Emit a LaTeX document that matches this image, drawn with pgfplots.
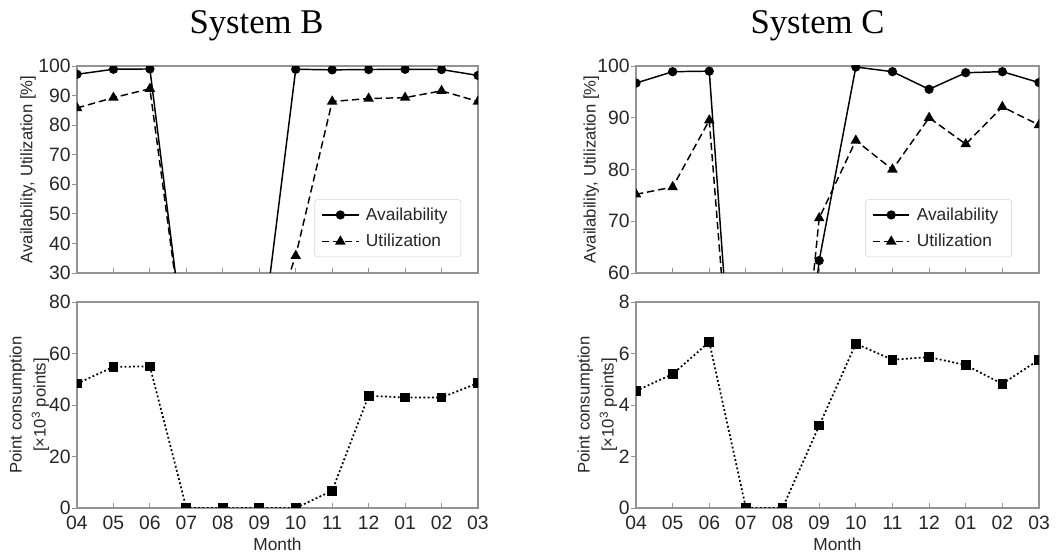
\documentclass[border=0pt]{standalone}
\usepackage{fontspec}
\setmainfont{Liberation Sans}
\newfontfamily\titlefont{Liberation Serif}
\usepackage{pgfplots}
\pgfplotsset{compat=1.18}

% 1 px of the reference = 0.75pt
\pgfplotsset{
  sysax/.style={
    scale only axis,
    xmin=0, xmax=11, xtick={0,...,11},
    axis line style={draw=gray!85, line width=0.8pt},
    every tick/.style={draw=gray!85, line width=0.7pt},
    major tick length=3.5pt,
    xtick align=inside, ytick align=outside,
    xtick pos=bottom, ytick pos=left,
    clip marker paths=true,
    tick label style={font=\fontsize{14.5}{16}\selectfont, text=black!85},
    yticklabel style={inner xsep=1pt, inner ysep=0pt},
    xticklabel style={inner ysep=0pt, yshift=-6pt},
    label style={font=\fontsize{13}{15}\selectfont, text=black!85},
    xlabel style={at={(axis description cs:0.5,-0.175)}, anchor=center},
    /pgf/number format/assume math mode=true,
    legend cell align=left,
    legend image code/.code={
      \draw[mark repeat=2, mark phase=2, #1] plot coordinates {(0cm,0cm) (0.48cm,0cm) (0.96cm,0cm)};},
    legend style={anchor=south east, draw=gray!35, rounded corners=2pt,
      font=\fontsize{13}{15}\selectfont, text=black!85,
      row sep=5pt, inner xsep=5pt, inner ysep=4pt,
      nodes={inner xsep=5pt}},
  },
  avlabel/.style={ylabel={Availability, Utilization [\%]},
    ylabel style={font=\fontsize{12.5}{14}\selectfont, at={(axis description cs:#1,0.5)}, anchor=center}},
  ptlabel/.style={ylabel={Point consumption\\\relax[×10\textsuperscript{3} points]},
    ylabel style={align=center, font=\fontsize{12.5}{18}\selectfont, at={(axis description cs:#1,0.5)}, anchor=center}},
  avail/.style={black, line width=1.1pt, mark=*, mark size=2.9pt},
  util/.style={black, line width=1.1pt, dash pattern=on 5.5pt off 3pt,
    mark=triangle*, mark size=3.5pt, mark options={solid}},
  pts/.style={black, line width=1.3pt, dash pattern=on 1.4pt off 1.8pt,
    mark=square*, mark size=3pt, mark options={solid}},
}

\begin{document}
\begin{tikzpicture}
\path (0,0) rectangle (793.5pt,417pt);

\node[anchor=base, font=\titlefont\fontsize{26}{30}\selectfont] at (192.4pt,392.2pt) {System B};
\node[anchor=base, font=\titlefont\fontsize{26}{30}\selectfont] at (613.1pt,392.2pt) {System C};

% System B, availability and utilization
\begin{axis}[sysax, at={(57.75pt,212.25pt)}, anchor=south west,
  width=300.75pt, height=155.25pt,
  ymin=30, ymax=100, ytick={30,40,...,100},
  xticklabels={}, avlabel=-0.122,
  legend style={at={(0.958,0.077)}}]
\addplot[avail] coordinates {(0,97.2) (1,98.9) (2,99.0) (3,0) (4,0) (5,0) (6,98.9) (7,98.7) (8,98.8) (9,98.9) (10,98.8) (11,96.8)};
\addplot[util] coordinates {(0,85.8) (1,89.3) (2,92.3) (3,0) (4,0) (5,0) (6,35.8) (7,88.0) (8,89.0) (9,89.3) (10,91.6) (11,88.0)};
\legend{Availability, Utilization}
\end{axis}

% System B, point consumption
\begin{axis}[sysax, at={(57.75pt,36pt)}, anchor=south west,
  width=300.75pt, height=154.5pt,
  ymin=0, ymax=80, ytick={0,20,...,80},
  xticklabels={04,05,06,07,08,09,10,11,12,01,02,03},
  xlabel={Month}, ptlabel=-0.119]
\addplot[pts] coordinates {(0,48.3) (1,54.8) (2,55.0) (3,0) (4,0) (5,0) (6,0) (7,6.7) (8,43.6) (9,42.9) (10,42.9) (11,48.5)};
\end{axis}

% System C, availability and utilization
\begin{axis}[sysax, at={(477pt,212.25pt)}, anchor=south west,
  width=302.25pt, height=155.25pt,
  ymin=60, ymax=100, ytick={60,70,...,100},
  xticklabels={}, avlabel=-0.111,
  legend style={at={(0.933,0.077)}}]
\addplot[avail] coordinates {(0,96.7) (1,98.9) (2,99.0) (3,0) (4,0) (5,62.4) (6,99.8) (7,98.9) (8,95.5) (9,98.7) (10,98.9) (11,96.8)};
\addplot[util] coordinates {(0,75.2) (1,76.6) (2,89.5) (3,0) (4,0) (5,70.6) (6,85.6) (7,80.0) (8,90.0) (9,84.9) (10,92.1) (11,88.6)};
\legend{Availability, Utilization}
\end{axis}

% System C, point consumption
\begin{axis}[sysax, at={(477pt,36pt)}, anchor=south west,
  width=302.25pt, height=154.5pt,
  ymin=0, ymax=8, ytick={0,2,...,8},
  xticklabels={04,05,06,07,08,09,10,11,12,01,02,03},
  xlabel={Month}, ptlabel=-0.096]
\addplot[pts] coordinates {(0,4.55) (1,5.2) (2,6.45) (3,0) (4,0) (5,3.2) (6,6.38) (7,5.76) (8,5.86) (9,5.55) (10,4.82) (11,5.76)};
\end{axis}
\end{tikzpicture}
\end{document}
